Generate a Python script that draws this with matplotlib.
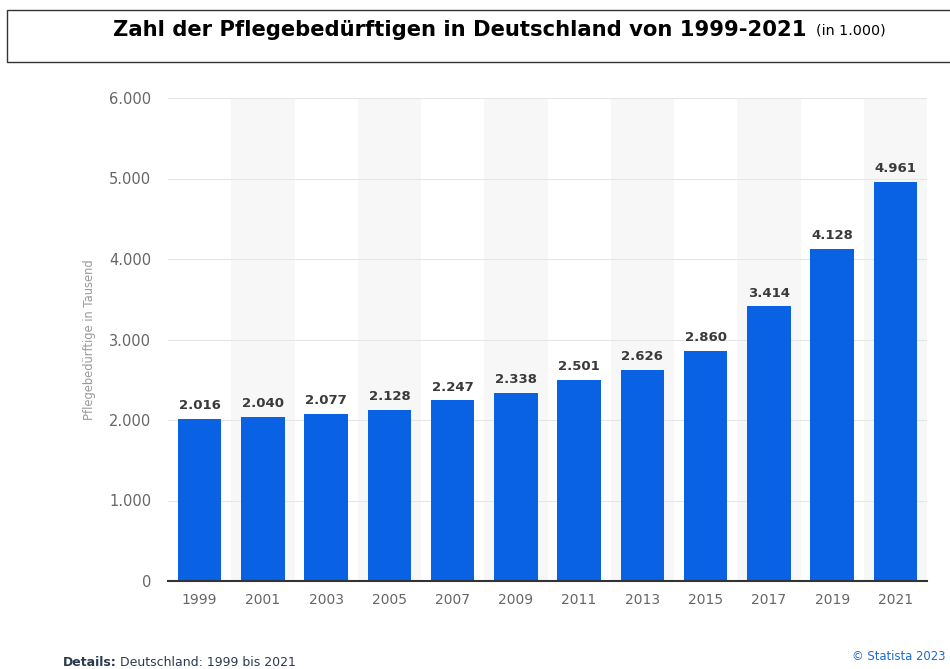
import matplotlib
matplotlib.use("Agg")
import matplotlib.pyplot as plt
from matplotlib.patches import Rectangle

years = ["1999", "2001", "2003", "2005", "2007", "2009", "2011", "2013", "2015", "2017", "2019", "2021"]
values = [2016, 2040, 2077, 2128, 2247, 2338, 2501, 2626, 2860, 3414, 4128, 4961]
yticks = [0, 1000, 2000, 3000, 4000, 5000, 6000]
ytick_labels = ["0", "1.000", "2.000", "3.000", "4.000", "5.000", "6.000"]

W, H = 950, 669
fig = plt.figure(figsize=(W / 100, H / 100), dpi=100)
fig.patch.set_facecolor("white")

# plot area
left, right = 168 / W, 927 / W
bottom, top = 1 - 581 / H, 1 - 98 / H
ax = fig.add_axes([left, bottom, right - left, top - bottom])
ax.set_facecolor("white")

x = list(range(len(years)))
# alternating shaded columns
for i in x:
    if i % 2 == 1:
        ax.axvspan(i - 0.5, i + 0.5, color="#f7f7f7", zorder=0, lw=0)

ax.bar(x, values, width=0.69, color="#0862e3", zorder=3)
for xi, v in zip(x, values):
    lab = f"{v:,}".replace(",", ".")
    ax.text(xi, v + 80, lab, ha="center", va="bottom", fontsize=9.5,
            fontweight="bold", color="#3a3a3a", zorder=4)

ax.set_xlim(-0.5, len(years) - 0.5)
ax.set_ylim(0, 6000)
ax.set_yticks(yticks)
ax.set_yticklabels(ytick_labels)
ax.set_xticks(x)
ax.set_xticklabels(years)
ax.grid(axis="y", color="#e6e6e6", lw=0.8, zorder=1)
ax.tick_params(axis="both", length=0, labelsize=10, labelcolor="#666666")
ax.tick_params(axis="y", pad=12, labelsize=10.5)
ax.tick_params(axis="x", pad=9)
for s in ["top", "right", "left"]:
    ax.spines[s].set_visible(False)
ax.spines["bottom"].set_color("#333333")
ax.spines["bottom"].set_linewidth(1.5)
ax.spines["bottom"].set_zorder(5)

fig.text(90 / W, 1 - 340 / H, "Pflegebedürftige in Tausend", rotation=90,
         ha="center", va="center", fontsize=8.3, color="#999999")

# title box
fig.patches.append(Rectangle((7 / W, 1 - 62 / H), 1.0, 52 / H, transform=fig.transFigure,
                             facecolor="white", edgecolor="#333333", lw=1.0))
fig.text(113 / W, 1 - 30 / H, "Zahl der Pflegebedürftigen in Deutschland von 1999-2021",
         ha="left", va="center", fontsize=15.2, fontweight="bold", color="black")
fig.text(816 / W, 1 - 31 / H, "(in 1.000)", ha="left", va="center", fontsize=10.3, color="black")

# footer
fig.text(63 / W, 1 - 662 / H, "Details:", ha="left", va="center", fontsize=9,
         fontweight="bold", color="#2b3a4f")
fig.text(120 / W, 1 - 662 / H, "Deutschland: 1999 bis 2021", ha="left", va="center",
         fontsize=9, color="#2b3a4f")
fig.text(852 / W, 1 - 657 / H, "© Statista 2023", ha="left", va="center", fontsize=8.4,
         color="#1a6ad6")

fig.savefig("out.png", dpi=100, facecolor="white")
